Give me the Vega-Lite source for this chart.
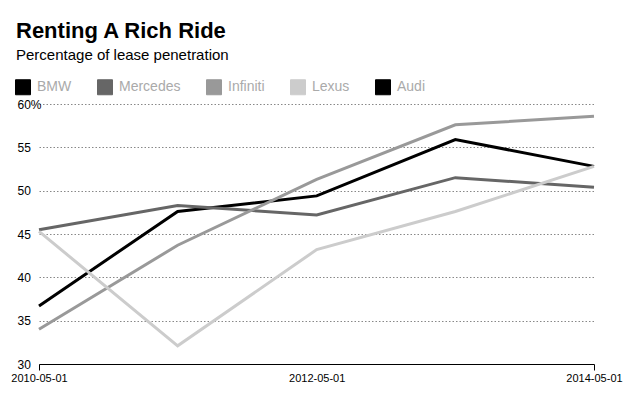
{
  "$schema": "https://vega.github.io/schema/vega-lite/v6.json",
  "width": 555,
  "height": 260,
  "autosize": {"type": "none"},
  "padding": {"left": 39, "top": 104, "right": 36, "bottom": 36},
  "background": "white",
  "title": {
    "text": "Renting A Rich Ride",
    "subtitle": "Percentage of lease penetration",
    "anchor": "start",
    "frame": "group",
    "dx": -23,
    "offset": 15,
    "font": "Liberation Sans",
    "fontSize": 22,
    "fontWeight": "bold",
    "color": "#000",
    "subtitleFont": "Liberation Sans",
    "subtitleFontSize": 15,
    "subtitleColor": "#000",
    "subtitlePadding": 5
  },
  "config": {"view": {"stroke": null}, "font": "Liberation Sans"},
  "data": {
    "values": [
      {"brand": "BMW", "date": "2010-05-01", "pct": 36.7},
      {"brand": "BMW", "date": "2011-05-01", "pct": 47.6},
      {"brand": "BMW", "date": "2012-05-01", "pct": 49.4},
      {"brand": "BMW", "date": "2013-05-01", "pct": 55.9},
      {"brand": "BMW", "date": "2014-05-01", "pct": 52.8},
      {"brand": "Mercedes", "date": "2010-05-01", "pct": 45.5},
      {"brand": "Mercedes", "date": "2011-05-01", "pct": 48.3},
      {"brand": "Mercedes", "date": "2012-05-01", "pct": 47.2},
      {"brand": "Mercedes", "date": "2013-05-01", "pct": 51.5},
      {"brand": "Mercedes", "date": "2014-05-01", "pct": 50.4},
      {"brand": "Infiniti", "date": "2010-05-01", "pct": 34.0},
      {"brand": "Infiniti", "date": "2011-05-01", "pct": 43.7},
      {"brand": "Infiniti", "date": "2012-05-01", "pct": 51.3},
      {"brand": "Infiniti", "date": "2013-05-01", "pct": 57.6},
      {"brand": "Infiniti", "date": "2014-05-01", "pct": 58.6},
      {"brand": "Lexus", "date": "2010-05-01", "pct": 45.3},
      {"brand": "Lexus", "date": "2011-05-01", "pct": 32.1},
      {"brand": "Lexus", "date": "2012-05-01", "pct": 43.2},
      {"brand": "Lexus", "date": "2013-05-01", "pct": 47.6},
      {"brand": "Lexus", "date": "2014-05-01", "pct": 52.8}
    ]
  },
  "mark": {"type": "line", "strokeWidth": 3},
  "encoding": {
    "x": {
      "field": "date",
      "type": "temporal",
      "scale": {
        "type": "utc",
        "domain": [
          {"year": 2010, "month": 5, "date": 1, "utc": true},
          {"year": 2014, "month": 5, "date": 1, "utc": true}
        ]
      },
      "axis": {
        "title": null,
        "values": [
          {"year": 2010, "month": 5, "date": 1, "utc": true},
          {"year": 2012, "month": 5, "date": 1, "utc": true},
          {"year": 2014, "month": 5, "date": 1, "utc": true}
        ],
        "format": "%Y-%m-%d",
        "grid": false,
        "domainColor": "#000",
        "domainWidth": 1,
        "tickColor": "#000",
        "tickSize": 6,
        "tickOpacity": {"condition": {"test": "utcyear(datum.value) == 2012", "value": 0}, "value": 1},
        "labelFont": "Liberation Sans",
        "labelFontSize": 11,
        "labelColor": "#000",
        "labelPadding": 2,
        "labelFlush": false,
        "labelBound": false,
        "labelOverlap": false
      }
    },
    "y": {
      "field": "pct",
      "type": "quantitative",
      "scale": {"domain": [30, 60], "nice": false, "zero": false},
      "axis": {
        "title": null,
        "values": [30, 35, 40, 45, 50, 55, 60],
        "grid": true,
        "gridColor": "#888",
        "gridDash": [1.5, 2],
        "gridWidth": 1,
        "domain": false,
        "ticks": false,
        "tickSize": 0,
        "labelAlign": "left",
        "labelPadding": 22,
        "labelBaseline": "middle",
        "labelFont": "Liberation Sans",
        "labelFontSize": 12,
        "labelColor": "#000",
        "labelExpr": "datum.value == 60 ? '60%' : datum.label"
      }
    },
    "color": {
      "field": "brand",
      "type": "nominal",
      "scale": {
        "domain": ["BMW", "Mercedes", "Infiniti", "Lexus", "Audi"],
        "range": ["#000000", "#666666", "#999999", "#cccccc", "#000000"]
      },
      "legend": {
        "title": null,
        "orient": "none",
        "legendX": -24,
        "legendY": -25,
        "direction": "horizontal",
        "symbolType": "square",
        "symbolSize": 225,
        "labelFont": "Liberation Sans",
        "labelFontSize": 14,
        "labelColor": "#aaaaaa",
        "labelOffset": 6,
        "columnPadding": 23,
        "padding": 0,
        "encode": {
          "symbols": {
            "update": {
              "fill": {"scale": "color", "field": "value"},
              "stroke": {"value": "#000"},
              "strokeWidth": {"value": 1},
              "opacity": {"value": 1}
            }
          }
        }
      }
    }
  }
}
